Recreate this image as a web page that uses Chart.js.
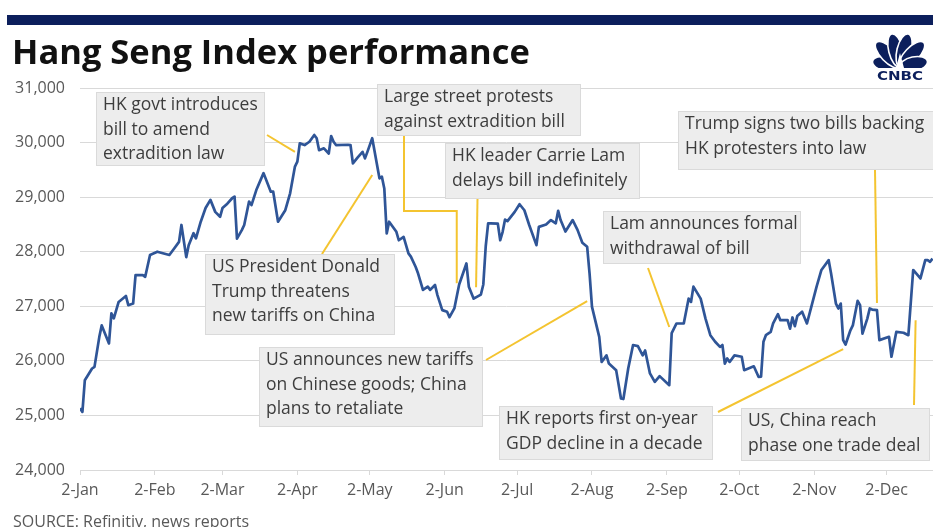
<!DOCTYPE html>
<html>
<head>
<meta charset="utf-8">
<title>Hang Seng Index performance</title>
<script src="https://cdn.jsdelivr.net/npm/chart.js@4.4.1/dist/chart.umd.min.js"></script>
<style>
  html, body { margin: 0; padding: 0; background: #fff; overflow: hidden; }
  #chart { display: block; }
</style>
</head>
<body>
<canvas id="chart" width="933" height="527"></canvas>
<script>
(function () {
  'use strict';

  // ---- Data (2019 closes, MM-DD) ----
  const closeDates = [
    '01-02', '01-03', '01-04', '01-07', '01-08', '01-10', '01-11', '01-14', '01-15', '01-16',
    '01-18', '01-21', '01-22', '01-24', '01-25', '01-28', '01-29', '01-31', '02-03', '02-08',
    '02-10', '02-12', '02-13', '02-15', '02-16', '02-18', '02-19', '02-21', '02-23', '02-25',
    '02-27', '03-01', '03-02', '03-04', '03-06', '03-07', '03-08', '03-10', '03-11', '03-13',
    '03-14', '03-16', '03-19', '03-22', '03-23', '03-25', '03-28', '03-30', '04-01', '04-02',
    '04-03', '04-05', '04-07', '04-09', '04-10', '04-11', '04-13', '04-15', '04-16', '04-17',
    '04-18', '04-23', '04-24', '04-25', '04-27', '04-29', '04-30', '05-01', '05-03', '05-06',
    '05-07', '05-08', '05-09', '05-10', '05-13', '05-14', '05-16', '05-18', '05-19', '05-21',
    '05-22', '05-24', '05-26', '05-27', '05-29', '05-30', '06-01', '06-03', '06-04', '06-06',
    '06-08', '06-11', '06-12', '06-14', '06-17', '06-18', '06-19', '06-20', '06-21', '06-24',
    '06-25', '06-26', '06-27', '06-28', '07-01', '07-03', '07-05', '07-07', '07-10', '07-11',
    '07-14', '07-16', '07-18', '07-19', '07-20', '07-22', '07-25', '07-27', '07-29', '07-31',
    '08-01', '08-02', '08-05', '08-06', '08-08', '08-09', '08-12', '08-14', '08-15', '08-17',
    '08-19', '08-21', '08-23', '08-24', '08-26', '08-28', '08-30', '09-03', '09-04', '09-06',
    '09-09', '09-11', '09-12', '09-13', '09-16', '09-18', '09-20', '09-22', '09-24', '09-25',
    '09-26', '09-27', '09-28', '09-30', '10-03', '10-04', '10-08', '10-10', '10-11', '10-12',
    '10-13', '10-15', '10-16', '10-18', '10-19', '10-22', '10-23', '10-24', '10-25', '10-26',
    '10-28', '10-30', '11-01', '11-03', '11-05', '11-08', '11-09', '11-11', '11-12', '11-13',
    '11-14', '11-15', '11-17', '11-18', '11-20', '11-21', '11-22', '11-24', '11-25', '11-26',
    '11-28', '11-29', '12-03', '12-04', '12-06', '12-09', '12-11', '12-13', '12-16', '12-18',
    '12-19', '12-20', '12-21'
  ];
  const closeValues = [
    25130, 25064, 25645, 25860, 25890, 26440, 26650, 26320, 26870, 26780,
    27080, 27190, 27020, 27050, 27570, 27570, 27540, 27940, 28000, 27940,
    28060, 28180, 28490, 27900, 28120, 28340, 28245, 28550, 28800, 28950,
    28730, 28640, 28800, 28880, 28980, 29010, 28240, 28395, 28490, 28920,
    28855, 29130, 29440, 29100, 29100, 28550, 28760, 29070, 29560, 29650,
    29985, 29955, 30015, 30140, 30080, 29860, 29895, 29800, 30120, 30015,
    29955, 29960, 29955, 29620, 29730, 29830, 29710, 29830, 30080, 29345,
    29375, 29160, 28335, 28550, 28365, 28210, 28270, 27970, 27910, 27720,
    27600, 27300, 27360, 27300, 27390, 27205, 26930, 26900, 26800, 26960,
    27400, 27785, 27360, 27140, 27215, 27400, 28100, 28520, 28520, 28515,
    28210, 28365, 28590, 28560, 28730, 28870, 28760, 28490, 28120, 28455,
    28500, 28580, 28520, 28750, 28580, 28370, 28580, 28400, 28165, 28090,
    27600, 26990, 26440, 25980, 26100, 25950, 25830, 25310, 25300, 25860,
    26290, 26270, 26100, 26190, 25770, 25615, 25720, 25555, 26510, 26685,
    26685, 27140, 27080, 27360, 27140, 26775, 26470, 26350, 26255, 26290,
    25950, 26045, 25980, 26100, 26075, 25830, 25900, 25705, 25710, 26350,
    26470, 26530, 26685, 26855, 26745, 26745, 26590, 26795, 26635, 26820,
    26900, 26685, 27020, 27360, 27665, 27845, 27600, 27050, 26960, 27050,
    26380, 26300, 26560, 26650, 27100, 27020, 26500, 26775, 26960, 26940,
    26930, 26380, 26440, 26075, 26530, 26515, 26470, 27665, 27510, 27845,
    27845, 27815, 27875
  ];

  const tickDates = ['01-02', '02-02', '03-02', '04-02', '05-02', '06-02',
                     '07-02', '08-02', '09-02', '10-02', '11-02', '12-02'];
  const tickLabels = ['2-Jan', '2-Feb', '2-Mar', '2-Apr', '2-May', '2-Jun',
                      '2-Jul', '2-Aug', '2-Sep', '2-Oct', '2-Nov', '2-Dec'];
  const yMin = 24000;
  const yMax = 31000;
  const yStep = 1000;

  // event notes: text lines, box [left, top, width, height] in px,
  // leader start in px (optional elbow height), leader end at [date, value]
  const notes = [
    { lines: ['HK govt introduces', 'bill to amend', 'extradition law'],
      box: [96, 92, 169, 74], from: [267, 135], to: ['04-01', 29830] },
    { lines: ['Large street protests', 'against extradition bill'],
      box: [377, 84, 204, 52], from: [404, 136], elbow: 211, to: ['06-07', 27420] },
    { lines: ['HK leader Carrie Lam', 'delays bill indefinitely'],
      box: [445, 143, 195, 56], from: [477.5, 199], to: ['06-15', 27350] },
    { lines: ['Trump signs two bills backing', 'HK protesters into law'],
      box: [678, 111, 262, 59], from: [875, 170], to: ['11-28', 27060] },
    { lines: ['Lam announces formal', 'withdrawal of bill'],
      box: [603, 211, 198, 53], from: [648, 268], to: ['09-03', 26620] },
    { lines: ['US President Donald', 'Trump threatens', 'new tariffs on China'],
      box: [205, 254, 190, 81], from: [322, 254], to: ['05-03', 29405] },
    { lines: ['US announces new tariffs', 'on Chinese goods; China', 'plans to retaliate'],
      box: [259, 347, 224, 80], from: [486, 360], to: ['07-31', 27094] },
    { lines: ['HK reports first on-year', 'GDP decline in a decade'],
      box: [499, 406, 214, 54], from: [718, 412], to: ['11-14', 26214] },
    { lines: ['US, China reach', 'phase one trade deal'],
      box: [741, 408, 189, 53], from: [914, 405], to: ['12-14', 26745] }
  ];

  const FONT = '"Open Sans", "Noto Sans", sans-serif';
  const NAVY = '#0c1f5c';

  function dayOf(md) {
    const [m, d] = md.split('-').map(Number);
    return (Date.UTC(2019, m - 1, d) - Date.UTC(2019, 0, 1)) / 86400000;
  }

  const points = closeDates.map((d, i) => ({ x: dayOf(d), y: closeValues[i] }));
  const xMin = dayOf(closeDates[0]);
  const xMax = dayOf(closeDates[closeDates.length - 1]) + 0.2;

  // ---- CNBC peacock ----
  function drawLogo(ctx) {
    const cx = 900, cy = 67;
    const angles = [-168, -134, -104, -76, -46, -12];
    ctx.save();
    ctx.fillStyle = NAVY;
    ctx.strokeStyle = '#fff';
    ctx.lineWidth = 1.6;
    angles.forEach((deg, i) => {
      const a = deg * Math.PI / 180;
      const len = (i === 0 || i === 5) ? 14 : 17;
      ctx.beginPath();
      ctx.ellipse(cx + Math.cos(a) * len, cy + Math.sin(a) * len, len, 7.2, a, 0, Math.PI * 2);
      ctx.fill();
      ctx.stroke();
    });
    // body
    ctx.fillStyle = '#fff';
    ctx.beginPath();
    ctx.moveTo(cx, cy - 14);
    ctx.lineTo(cx - 4, cy + 1);
    ctx.lineTo(cx + 4, cy + 1);
    ctx.closePath();
    ctx.fill();
    ctx.fillRect(cx - 32, cy + 1, 64, 5);
    ctx.fillStyle = NAVY;
    ctx.font = '900 12px "DejaVu Sans", sans-serif';
    ctx.textAlign = 'center';
    ctx.textBaseline = 'alphabetic';
    ctx.save();
    ctx.translate(cx, cy + 13);
    ctx.scale(1.25, 1);
    ctx.fillText('CNBC', 0, 0);
    ctx.restore();
    ctx.restore();
  }

  // ---- Title, notes, source ----
  const decor = {
    id: 'decor',
    beforeDraw(chart) {
      const ctx = chart.ctx;
      ctx.save();
      ctx.fillStyle = '#fff';
      ctx.fillRect(0, 0, chart.width, chart.height);
      ctx.restore();
    },
    afterDraw(chart) {
      const ctx = chart.ctx;
      const xs = chart.scales.x, ys = chart.scales.y;
      ctx.save();

      ctx.fillStyle = NAVY;
      ctx.fillRect(7, 15, chart.width - 7, 10);

      ctx.fillStyle = '#111';
      ctx.font = 'bold 34.5px ' + FONT;
      ctx.textBaseline = 'alphabetic';
      ctx.fillText('Hang Seng Index performance', 12, 63.5);

      drawLogo(ctx);

      ctx.fillStyle = '#595959';
      ctx.font = '16px ' + FONT;
      ctx.fillText('SOURCE: Refinitiv, news reports', 13, 527);

      // leaders
      ctx.strokeStyle = '#f4c430';
      ctx.lineWidth = 2;
      ctx.lineJoin = 'miter';
      notes.forEach(n => {
        const ex = xs.getPixelForValue(dayOf(n.to[0]));
        const ey = ys.getPixelForValue(n.to[1]);
        ctx.beginPath();
        ctx.moveTo(n.from[0], n.from[1]);
        if (n.elbow) {
          ctx.lineTo(n.from[0], n.elbow);
          ctx.lineTo(ex, n.elbow);
        }
        ctx.lineTo(ex, ey);
        ctx.stroke();
      });

      // boxes
      ctx.font = '17.5px ' + FONT;
      ctx.textBaseline = 'middle';
      notes.forEach(n => {
        const [l, t, w, h] = n.box;
        ctx.fillStyle = '#ededed';
        ctx.fillRect(l, t, w, h);
        ctx.strokeStyle = '#dadada';
        ctx.lineWidth = 1;
        ctx.strokeRect(l + 0.5, t + 0.5, w - 1, h - 1);
        ctx.fillStyle = '#3d3d3d';
        n.lines.forEach((s, i) => ctx.fillText(s, l + 7, t + 13.5 + i * 24.3));
      });

      ctx.restore();
    }
  };

  new Chart(document.getElementById('chart'), {
    type: 'line',
    data: {
      datasets: [{
        label: 'Hang Seng Index',
        data: points,
        borderColor: '#2f5597',
        borderWidth: 2.7,
        borderJoinStyle: 'round',
        pointRadius: 0,
        tension: 0
      }]
    },
    options: {
      responsive: false,
      animation: false,
      devicePixelRatio: 1,
      layout: { padding: { top: 88, left: 0, right: 0, bottom: 0 } },
      plugins: { legend: { display: false }, tooltip: { enabled: false } },
      scales: {
        x: {
          type: 'linear',
          min: xMin,
          max: xMax,
          afterBuildTicks: s => { s.ticks = tickDates.map(d => ({ value: dayOf(d) })); },
          afterFit: s => { s.height = 57; },
          ticks: {
            callback: (v, i) => tickLabels[i],
            autoSkip: false,
            maxRotation: 0,
            padding: 6,
            color: '#595959',
            font: { family: FONT, size: 16 }
          },
          grid: { drawOnChartArea: false, tickLength: 5, color: '#d9d9d9' },
          border: { color: '#d9d9d9', width: 1 }
        },
        y: {
          min: yMin,
          max: yMax,
          afterFit: s => { s.width = 80; },
          ticks: {
            stepSize: yStep,
            callback: v => v.toLocaleString('en-US'),
            padding: 15,
            color: '#595959',
            font: { family: FONT, size: 16 }
          },
          grid: { color: '#d9d9d9', drawTicks: false },
          border: { display: false }
        }
      }
    },
    plugins: [decor]
  });
})();
</script>
</body>
</html>
